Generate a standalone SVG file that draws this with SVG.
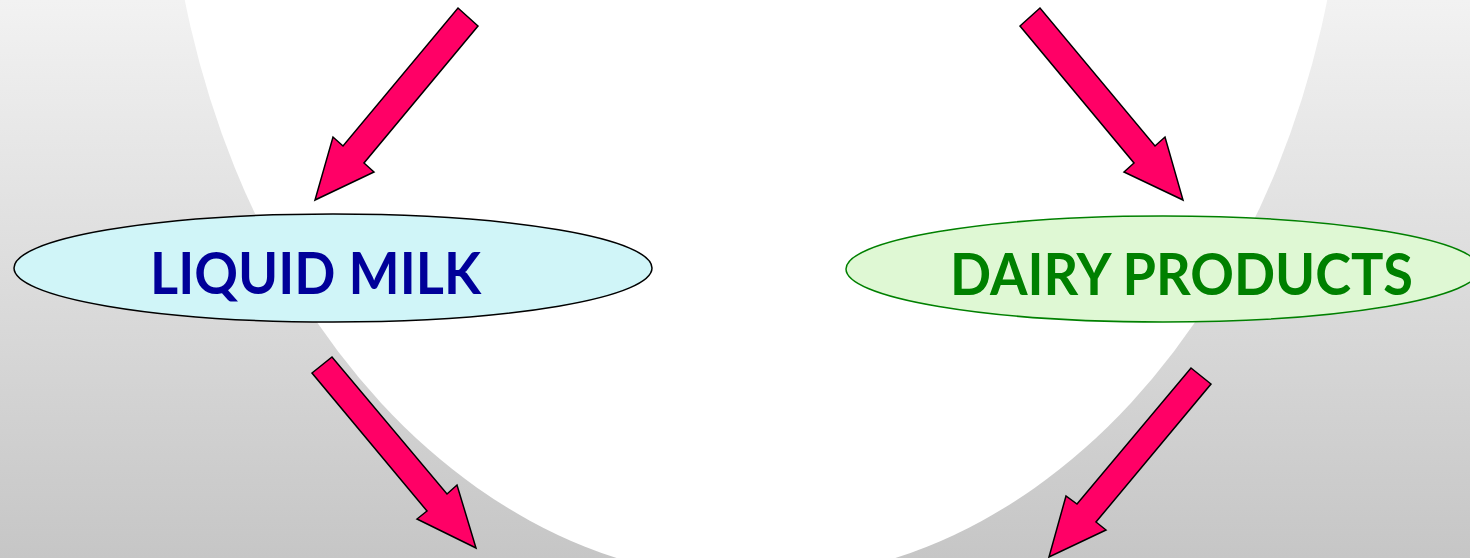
<svg xmlns="http://www.w3.org/2000/svg" width="1470" height="558" viewBox="0 0 1470 558">
  <defs>
    <linearGradient id="bg" x1="0" y1="0" x2="0" y2="1">
      <stop offset="0" stop-color="#f2f2f2"/>
      <stop offset="1" stop-color="#c6c6c6"/>
    </linearGradient>
    <style>
      .arrow { fill: #ff0066; stroke: #000000; stroke-width: 1.5; stroke-linejoin: miter; }
      .label { font-family: Lato, "Open Sans", "Liberation Sans", sans-serif; font-weight: bold; font-size: 58px; }
    </style>
  </defs>

  <!-- backdrop -->
  <rect x="0" y="0" width="1470" height="558" fill="url(#bg)"/>
  <ellipse cx="756" cy="-200" rx="591" ry="780" fill="#ffffff"/>

  <!-- flow arrows -->
  <g id="connectors">
    <polygon class="arrow" points="458,8 478,26 364,163 374,172 315,200 333,137 343,146"/>
    <polygon class="arrow" points="1040,8 1020,26 1134,163 1124,172 1183,200 1165,137 1155,146"/>
    <polygon class="arrow" points="312,373 332,357 447,494 457,485 476,548 417,519 427,511"/>
    <polygon class="arrow" points="1191,368 1211,384 1096,522 1106,530 1049,557 1066,496 1077,504"/>
  </g>

  <g id="liquid-milk">
    <ellipse cx="333" cy="268" rx="319" ry="54" fill="#d0f5f8" stroke="#000000" stroke-width="1.5"/>
    <text class="label" x="150" y="294" fill="#000099" textLength="331" lengthAdjust="spacingAndGlyphs">LIQUID MILK</text>
  </g>

  <g id="dairy-products">
    <ellipse cx="1163" cy="269" rx="317" ry="53" fill="#dff8d4" stroke="#008000" stroke-width="1.5"/>
    <text class="label" x="950" y="295" fill="#008000" textLength="463" lengthAdjust="spacingAndGlyphs">DAIRY PRODUCTS</text>
  </g>
</svg>
